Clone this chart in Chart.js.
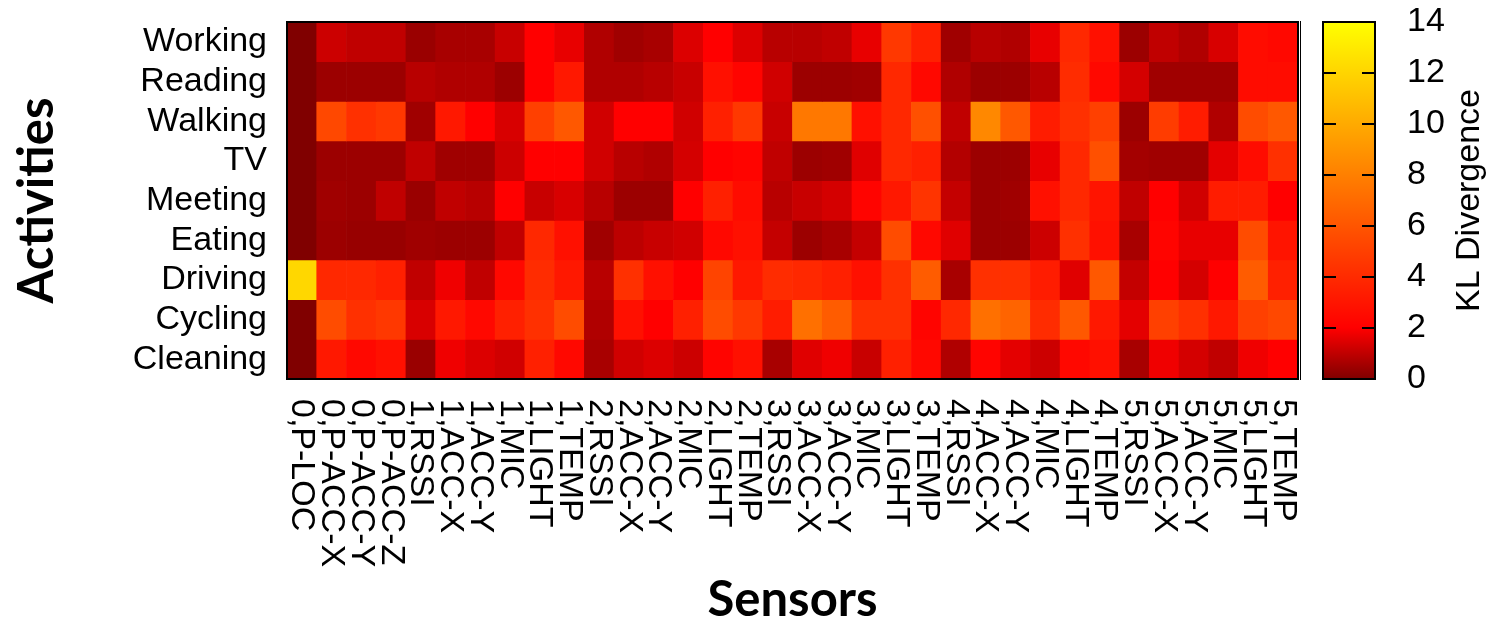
<!DOCTYPE html>
<html>
<head>
<meta charset="utf-8">
<script src="https://cdn.jsdelivr.net/npm/chart.js@4.4.1/dist/chart.umd.min.js"></script>
<style>
  body { margin: 0; background: #fff; }
  #wrap { position: relative; width: 1493px; height: 625px; }
  #heatmap { position: absolute; left: 0; top: 0; }
  #colorbar { position: absolute; left: 1300px; top: 0; }
</style>
</head>
<body>
<div id="wrap">
  <canvas id="heatmap" width="1300" height="625"></canvas>
  <canvas id="colorbar" width="193" height="625"></canvas>
</div>
<script>
const sensors = ['0,P-LOC', '0,P-ACC-X', '0,P-ACC-Y', '0,P-ACC-Z',
  '1,RSSI', '1,ACC-X', '1,ACC-Y', '1,MIC', '1,LIGHT', '1,TEMP',
  '2,RSSI', '2,ACC-X', '2,ACC-Y', '2,MIC', '2,LIGHT', '2,TEMP',
  '3,RSSI', '3,ACC-X', '3,ACC-Y', '3,MIC', '3,LIGHT', '3,TEMP',
  '4,RSSI', '4,ACC-X', '4,ACC-Y', '4,MIC', '4,LIGHT', '4,TEMP',
  '5,RSSI', '5,ACC-X', '5,ACC-Y', '5,MIC', '5,LIGHT', '5,TEMP'];
const activities = ['Working', 'Reading', 'Walking', 'TV', 'Meeting', 'Eating', 'Driving', 'Cycling', 'Cleaning'];

// KL divergence per sensor, one array per activity
const working  = [0, 1.2, 1.0, 1.0, 0.41, 0.63, 0.63, 1.13, 2.0, 1.64, 0.76, 0.5, 0.63, 1.45, 2.0, 1.45, 0.88, 0.88, 1.0, 1.64, 4.64, 3.5, 0.5, 0.88, 0.76, 1.64, 3.88, 2.75, 0.44, 1.0, 0.76, 1.39, 2.56, 2.38];
const reading  = [0, 0.44, 0.44, 0.44, 0.88, 0.76, 0.76, 0.44, 2.0, 3.13, 0.76, 0.76, 0.88, 1.13, 2.75, 2.19, 1.26, 0.44, 0.44, 0.5, 3.88, 2.38, 0.76, 0.44, 0.44, 0.88, 4.07, 2.38, 1.32, 0.5, 0.5, 0.5, 2.56, 2.56];
const walking  = [0, 5.39, 4.26, 4.64, 0.5, 3.13, 2.0, 1.39, 5.01, 6.14, 1.26, 2.0, 2.0, 1.26, 3.5, 4.64, 1.13, 7.65, 7.65, 2.75, 3.88, 5.76, 1.0, 8.4, 6.14, 3.32, 4.26, 5.01, 0.44, 4.82, 3.32, 0.76, 5.58, 6.14];
const tv       = [0, 0.44, 0.44, 0.44, 1.0, 0.5, 0.5, 1.2, 2.0, 2.0, 1.26, 0.88, 0.76, 1.32, 2.0, 2.19, 1.0, 0.44, 0.5, 1.51, 3.88, 3.5, 0.8, 0.44, 0.44, 1.64, 3.88, 5.76, 0.57, 0.5, 0.5, 1.57, 2.56, 4.26];
const meeting  = [0, 0.5, 0.44, 1.0, 0.41, 1.0, 0.88, 2.0, 1.13, 1.39, 0.88, 0.44, 0.44, 2.0, 3.5, 2.56, 0.88, 1.13, 1.32, 2.19, 3.13, 4.45, 1.07, 0.44, 0.5, 2.75, 3.88, 2.94, 1.0, 2.0, 1.26, 3.32, 3.32, 2.0];
const eating   = [0, 0.44, 0.38, 0.38, 0.5, 0.44, 0.44, 1.0, 3.88, 2.75, 0.5, 0.95, 1.13, 1.26, 2.38, 2.75, 1.07, 0.44, 0.63, 1.07, 5.58, 2.38, 1.51, 0.44, 0.44, 1.2, 4.26, 2.75, 0.63, 2.19, 1.64, 1.64, 5.58, 2.94];
const driving  = [12.12, 3.88, 3.88, 3.5, 1.0, 1.76, 1.0, 2.38, 4.07, 3.13, 0.88, 4.26, 2.75, 2.0, 5.2, 3.13, 4.07, 3.88, 3.5, 2.75, 4.26, 6.33, 0.63, 4.26, 4.26, 3.32, 1.51, 6.14, 1.07, 2.0, 1.32, 2.0, 6.33, 3.5];
const cycling  = [0, 5.58, 4.26, 4.64, 1.39, 3.13, 2.38, 3.5, 4.26, 5.58, 0.76, 2.75, 2.0, 3.5, 5.58, 4.64, 3.32, 7.27, 6.33, 4.26, 4.26, 2.19, 3.88, 7.27, 6.71, 4.07, 6.14, 3.13, 1.57, 5.01, 4.26, 3.13, 5.01, 5.39];
const cleaning = [0, 3.13, 2.38, 2.75, 0.41, 1.76, 1.45, 1.26, 3.5, 2.38, 0.63, 1.26, 1.45, 1.2, 2.19, 2.75, 0.63, 1.51, 1.76, 1.13, 3.5, 2.38, 0.76, 2.19, 1.57, 1.2, 2.38, 2.75, 0.63, 1.76, 1.32, 1.0, 1.76, 2.0];
const klRows = [working, reading, walking, tv, meeting, eating, driving, cycling, cleaning];

const klMax = 14;
const paletteStops = [0, 2, 14];

// dark red -> red (at 2) -> yellow (at 14)
function klColor(v) {
  let r, g;
  if (v <= 2) {
    r = Math.round(128 + 127 * v / 2);
    g = 0;
  } else {
    r = 255;
    g = Math.round(255 * Math.min(1, (v - 2) / 12));
  }
  return `rgb(${r},${g},0)`;
}

const tickFont = { family: '"Liberation Sans", Arial, sans-serif', size: 34 };
const titleFont = { family: 'Lato, "Open Sans", sans-serif', size: 49, weight: 'bold', lineHeight: 1 };

// drop the label overhang padding so the plot area lands where we want it
function fixedWidth(w) {
  return s => {
    s.width = w;
    s.paddingTop = 0;
    s.paddingBottom = 0;
  };
}

const frame = {
  id: 'frame',
  afterDraw(chart) {
    const a = chart.chartArea, ctx = chart.ctx;
    ctx.save();
    ctx.strokeStyle = '#000';
    ctx.lineWidth = 2;
    ctx.strokeRect(a.left, a.top, a.right - a.left, a.bottom - a.top);
    ctx.restore();
  }
};

// x labels read top-to-bottom, which Chart.js tick rotation can't do
const sensorLabels = {
  id: 'sensorLabels',
  afterDraw(chart) {
    const x = chart.scales.x, ctx = chart.ctx;
    ctx.save();
    ctx.font = `${tickFont.size}px ${tickFont.family}`;
    ctx.fillStyle = '#000';
    ctx.textAlign = 'left';
    ctx.textBaseline = 'middle';
    sensors.forEach((s, i) => {
      ctx.save();
      ctx.translate(x.getPixelForValue(i), chart.chartArea.bottom + 20);
      ctx.rotate(Math.PI / 2);
      ctx.fillText(s, 0, 0);
      ctx.restore();
    });
    ctx.restore();
  }
};

const cbTitle = {
  id: 'cbTitle',
  afterDraw(chart) {
    const a = chart.chartArea, ctx = chart.ctx;
    ctx.save();
    ctx.translate(a.right + 95, (a.top + a.bottom) / 2);
    ctx.rotate(-Math.PI / 2);
    ctx.font = `${tickFont.size}px ${tickFont.family}`;
    ctx.fillStyle = '#000';
    ctx.textAlign = 'center';
    ctx.textBaseline = 'middle';
    ctx.fillText('KL Divergence', 0, 0);
    ctx.restore();
  }
};

new Chart(document.getElementById('heatmap'), {
  type: 'bar',
  data: {
    labels: sensors,
    datasets: activities.map((name, r) => ({
      label: name,
      data: klRows[r].map(() => 1),
      kl: klRows[r],
      backgroundColor: klRows[r].map(klColor),
      borderWidth: 0,
      barPercentage: 1,
      categoryPercentage: 1
    }))
  },
  options: {
    responsive: false,
    animation: false,
    layout: { padding: { top: 22, right: 2 } },
    plugins: {
      legend: { display: false },
      tooltip: {
        callbacks: {
          label: c => `${c.dataset.label}: ${c.dataset.kl[c.dataIndex]}`
        }
      }
    },
    scales: {
      x: {
        stacked: true,
        grid: { display: false },
        border: { display: false },
        ticks: { display: false },
        title: { display: true, text: 'Sensors', font: titleFont, color: '#000', padding: 0 },
        afterFit: s => { s.height = 246; }
      },
      y: {
        stacked: true,
        reverse: true,
        min: 0,
        max: activities.length,
        display: false
      },
      yl: {
        type: 'category',
        labels: activities,
        offset: true,
        position: 'left',
        grid: { display: false, drawTicks: false },
        border: { display: false },
        ticks: { font: tickFont, color: '#000', padding: 20, autoSkip: false },
        title: { display: true, text: 'Activities', font: titleFont, color: '#000', padding: { top: 13 } },
        afterFit: fixedWidth(287)
      }
    }
  },
  plugins: [frame, sensorLabels]
});

new Chart(document.getElementById('colorbar'), {
  type: 'bar',
  data: {
    labels: ['KL'],
    datasets: [{
      data: [[0, klMax]],
      barPercentage: 1,
      categoryPercentage: 1,
      borderWidth: 0,
      backgroundColor: c => {
        const chart = c.chart, y = chart.scales.y;
        if (!chart.chartArea || !y) return klColor(0);
        const g = chart.ctx.createLinearGradient(0, y.getPixelForValue(0), 0, y.getPixelForValue(klMax));
        paletteStops.forEach(v => g.addColorStop(v / klMax, klColor(v)));
        return g;
      }
    }]
  },
  options: {
    responsive: false,
    animation: false,
    layout: { padding: { left: 23, top: 22, bottom: 246 } },
    plugins: { legend: { display: false }, tooltip: { enabled: false } },
    scales: {
      x: { display: false },
      y: {
        position: 'right',
        min: 0,
        max: klMax,
        ticks: { stepSize: 2, font: tickFont, color: '#000', padding: 32 },
        // short inner tick marks on both edges, drawn over the gradient
        grid: { drawTicks: false, color: '#000', lineWidth: 2, z: 1 },
        border: { display: true, color: '#000', width: 2, dash: [13, 26] },
        afterFit: fixedWidth(118)
      }
    }
  },
  plugins: [frame, cbTitle]
});
</script>
</body>
</html>
